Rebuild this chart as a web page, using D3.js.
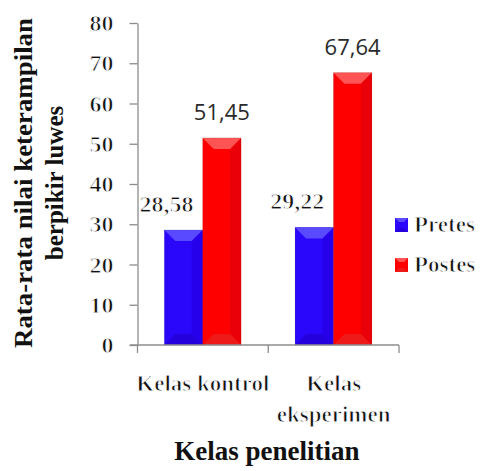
<!DOCTYPE html>
<html><head><meta charset="utf-8">
<script src="https://cdn.jsdelivr.net/npm/d3@7"></script>
<style>body{margin:0;background:#fff}</style>
</head><body>
<script>
const categories = ["Kelas kontrol", "Kelas eksperimen"];
const categoryLines = [["Kelas kontrol"], ["Kelas", "eksperimen"]];
const series = ["Pretes", "Postes"];
const pretes = [28.58, 29.22];
const postes = [51.45, 67.64];
const valueLabels = [["28,58", "51,45"], ["29,22", "67,64"]];
const yTicks = [0, 10, 20, 30, 40, 50, 60, 70, 80];
const yTitle = ["Rata-rata nilai keterampilan", "berpikir luwes"];
const xTitle = "Kelas penelitian";

const colors = {
  Pretes: {main: "#2a06fb", top: "#5a4aff", bottom: "#2400dc", right: "#2600ea"},
  Postes: {main: "#ff0000", top: "#ff5454", bottom: "#ee1a1a", right: "#ea0008"}
};

const W = 488, H = 471;
const serif = "Liberation Serif";
const sans = "Open Sans";
const svg = d3.select("body").append("svg").attr("width", W).attr("height", H);

const x0 = d3.scaleBand().domain(categories).range([137.5, 399]).padding(0);
const x1 = d3.scaleBand().domain(series).range([x0.bandwidth() * 0.205, x0.bandwidth() * 0.792]).padding(0);
const y = d3.scaleLinear().domain([0, 80]).range([345, 23]);

const axisColor = "#8c8c8c";
const THIN = 0.9;

// only the bold serif face renders here: thin it to look regular
function thin(sel, w) {
  return sel.attr("font-family", serif).attr("font-weight", "bold")
    .attr("stroke", "#fff").attr("stroke-width", w).attr("stroke-linejoin", "round");
}

// Y axis
const yAxis = d3.axisLeft(y).tickValues(yTicks).tickSize(8).tickSizeOuter(0).tickPadding(16).tickFormat(d3.format("d"));
const yg = svg.append("g").attr("transform", "translate(137.5,0)").call(yAxis).attr("font-size", 24);
yg.select(".domain").attr("stroke", axisColor).attr("stroke-width", 1.3);
yg.selectAll(".tick line").attr("stroke", axisColor).attr("stroke-width", 1.3);
thin(yg.selectAll(".tick text").attr("fill", "#111"), THIN);

// bars
const data = [];
categories.forEach((c, i) => {
  data.push({c, s: "Pretes", v: pretes[i], label: valueLabels[i][0]});
  data.push({c, s: "Postes", v: postes[i], label: valueLabels[i][1]});
});

const bars = svg.append("g");
data.forEach(d => {
  const bx = x0(d.c) + x1(d.s), bw = x1.bandwidth();
  const by = y(d.v), bh = y(0) - y(d.v);
  const col = colors[d.s];
  const b = 11;
  const g = bars.append("g");
  g.append("rect").attr("x", bx).attr("y", by).attr("width", bw).attr("height", bh).attr("fill", col.main);
  g.append("polygon").attr("points", [[bx + bw - b, by + b], [bx + bw, by], [bx + bw, by + bh], [bx + bw - b, by + bh - b]].join(" ")).attr("fill", col.right);
  g.append("polygon").attr("points", [[bx, by], [bx + bw, by], [bx + bw - b, by + b], [bx + b, by + b]].join(" ")).attr("fill", col.top);
  g.append("polygon").attr("points", [[bx, by + bh], [bx + bw, by + bh], [bx + bw - b, by + bh - b], [bx + b, by + bh - b]].join(" ")).attr("fill", col.bottom);
  g.append("rect").attr("x", bx).attr("y", by).attr("width", bw).attr("height", bh).attr("fill", "none").attr("stroke", "rgba(0,0,0,0.12)").attr("stroke-width", 0.8);
});

// value labels
data.forEach(d => {
  const cx = x0(d.c) + x1(d.s) + x1.bandwidth() / 2;
  if (d.s === "Pretes") {
    const t = svg.append("text").attr("x", cx - 17).attr("y", y(d.v) - 18)
      .attr("text-anchor", "middle").attr("font-size", 24)
      .attr("fill", "#111").text(d.label);
    thin(t, THIN);
  } else {
    svg.append("text").attr("x", cx).attr("y", y(d.v) - 18)
      .attr("text-anchor", "middle").attr("font-family", sans).attr("font-size", 22)
      .attr("fill", "#2a2a2a").text(d.label);
  }
});

// X axis
const xa = svg.append("g");
xa.append("line").attr("x1", 130).attr("x2", x0.range()[1]).attr("y1", y(0)).attr("y2", y(0)).attr("stroke", axisColor).attr("stroke-width", 1.3);
const bounds = [x0.range()[0]].concat(categories.map(c => x0(c) + x0.bandwidth()));
xa.selectAll("line.tk").data(bounds).enter().append("line").attr("class", "tk")
  .attr("x1", d => d).attr("x2", d => d).attr("y1", y(0)).attr("y2", y(0) + 8)
  .attr("stroke", axisColor).attr("stroke-width", 1.3);

categories.forEach((c, i) => {
  const t = svg.append("text").attr("x", x0(c) + x0.bandwidth() / 2).attr("y", 391)
    .attr("text-anchor", "middle").attr("font-size", 23)
    .attr("fill", "#111");
  thin(t, THIN);
  categoryLines[i].forEach((ln, j) => {
    t.append("tspan").attr("x", x0(c) + x0.bandwidth() / 2).attr("dy", j === 0 ? 0 : 31).text(ln);
  });
});

// X title
svg.append("text").attr("x", 267).attr("y", 460).attr("text-anchor", "middle")
  .attr("font-family", serif).attr("font-weight", "bold").attr("font-size", 27).attr("fill", "#111").text(xTitle);

// Y title
const yt = svg.append("text").attr("transform", "translate(0,183) rotate(-90)")
  .attr("text-anchor", "middle").attr("font-family", serif).attr("font-weight", "bold")
  .attr("font-size", 25).attr("fill", "#111");
yt.append("tspan").attr("x", 0).attr("y", 32).attr("textLength", 330).attr("lengthAdjust", "spacingAndGlyphs").text(yTitle[0]);
yt.append("tspan").attr("x", 0).attr("y", 63).text(yTitle[1]);

// Legend
const lg = svg.append("g");
series.forEach((s, i) => {
  const ly = 218 + i * 40;
  const col = colors[s];
  const sq = 13, b = 4;
  lg.append("rect").attr("x", 395).attr("y", ly).attr("width", sq).attr("height", sq + 1).attr("fill", col.main);
  lg.append("polygon").attr("points", [[395, ly], [395 + sq, ly], [395 + sq - b, ly + b], [395 + b, ly + b]].join(" ")).attr("fill", col.top);
  lg.append("polygon").attr("points", [[395, ly + sq + 1], [395 + sq, ly + sq + 1], [395 + sq - b, ly + sq + 1 - b], [395 + b, ly + sq + 1 - b]].join(" ")).attr("fill", col.bottom);
  const t = lg.append("text").attr("x", 414).attr("y", ly + 14).attr("font-size", 23)
    .attr("fill", "#111").text(s);
  thin(t, THIN);
});
</script>
</body></html>
